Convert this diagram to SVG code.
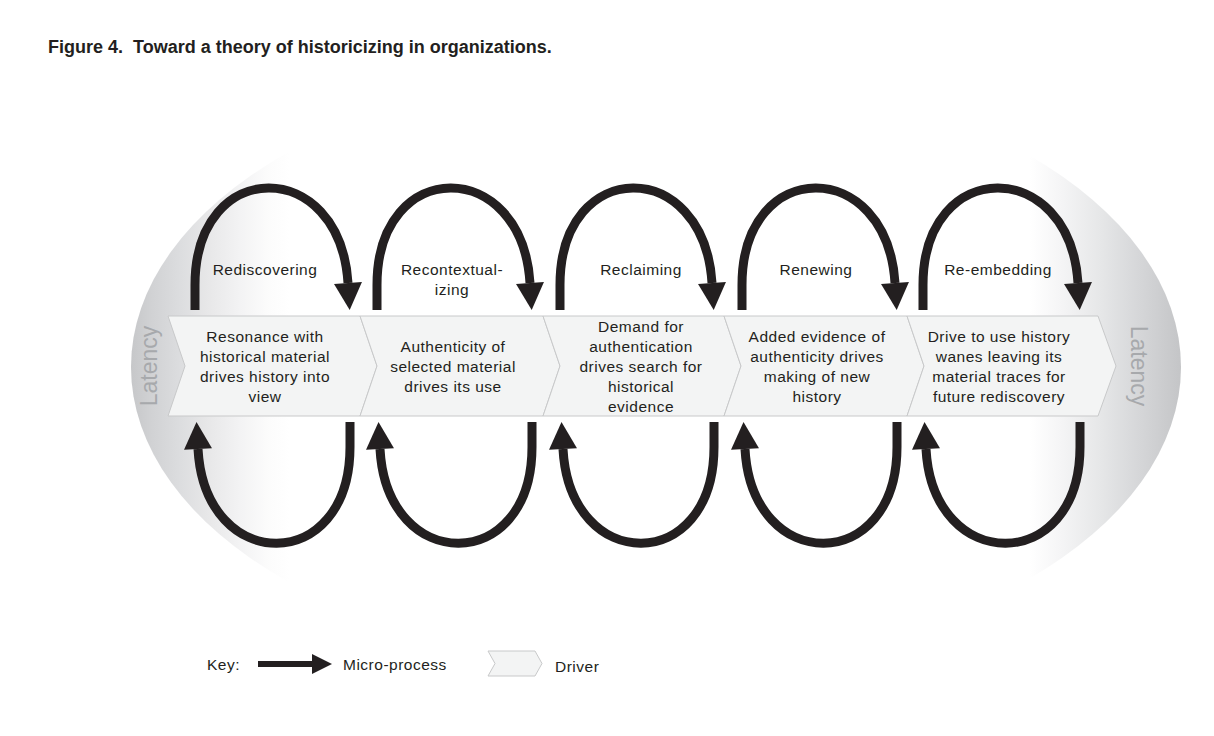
<svg xmlns="http://www.w3.org/2000/svg" width="1214" height="736" viewBox="0 0 1214 736">
<defs>
<linearGradient id="bg" gradientUnits="userSpaceOnUse" x1="131" y1="0" x2="1181" y2="0">
<stop offset="0" stop-color="#c6c7c9"/>
<stop offset="0.018" stop-color="#d0d1d3"/>
<stop offset="0.047" stop-color="#dcdddf"/>
<stop offset="0.075" stop-color="#e8e8e9"/>
<stop offset="0.104" stop-color="#f3f3f4"/>
<stop offset="0.132" stop-color="#fcfcfc"/>
<stop offset="0.151" stop-color="#ffffff"/>
<stop offset="0.856" stop-color="#ffffff"/>
<stop offset="0.885" stop-color="#f5f5f6"/>
<stop offset="0.923" stop-color="#e6e7e8"/>
<stop offset="0.961" stop-color="#d5d6d8"/>
<stop offset="1" stop-color="#c4c5c7"/>
</linearGradient>
<marker id="ah" markerUnits="userSpaceOnUse" markerWidth="30" markerHeight="30" refX="0" refY="14" orient="auto" overflow="visible">
<path d="M0,0 L27,14 L0,28 Z" fill="#231f20"/>
</marker>
<marker id="ahk" markerUnits="userSpaceOnUse" markerWidth="22" markerHeight="22" refX="0" refY="10" orient="auto" overflow="visible">
<path d="M0,0 L20,10 L0,20 Z" fill="#231f20"/>
</marker>
</defs>
<style>
text{font-family:"Liberation Sans",Arial,sans-serif;fill:#231f20}
.t{font-size:15.5px;letter-spacing:0.5px;text-anchor:middle}
.lat{font-size:23px;fill:#a7a9ac;text-anchor:middle}
.chev{fill:#f3f4f4;stroke:#c8c9ca;stroke-width:1}
.arc{fill:none;stroke:#231f20;stroke-width:9;marker-end:url(#ah)}
.title{font-size:18px;font-weight:bold;white-space:pre}
</style>
<rect width="1214" height="736" fill="#ffffff"/>
<text class="title" x="48" y="53">Figure 4.  Toward a theory of historicizing in organizations.</text>

<g id="latency-background">
<ellipse cx="656" cy="367" rx="525" ry="301" fill="url(#bg)"/>
<text class="lat" transform="translate(157,366) rotate(-90)">Latency</text>
<text class="lat" transform="translate(1131,366) rotate(90)">Latency</text>
</g>

<g id="driver-1">
<polygon class="chev" points="168,316 360,316 377,366 360,416 168,416 185,366"/>
<text class="t" x="265" y="342">Resonance with</text>
<text class="t" x="265" y="362">historical material</text>
<text class="t" x="265" y="382">drives history into</text>
<text class="t" x="265" y="402">view</text>
</g>
<g id="driver-2">
<polygon class="chev" points="360,316 543,316 560,366 543,416 360,416 377,366"/>
<text class="t" x="453" y="352">Authenticity of</text>
<text class="t" x="453" y="372">selected material</text>
<text class="t" x="453" y="392">drives its use</text>
</g>
<g id="driver-3">
<polygon class="chev" points="543,316 724,316 741,366 724,416 543,416 560,366"/>
<text class="t" x="641" y="332">Demand for</text>
<text class="t" x="641" y="352">authentication</text>
<text class="t" x="641" y="372">drives search for</text>
<text class="t" x="641" y="392">historical</text>
<text class="t" x="641" y="412">evidence</text>
</g>
<g id="driver-4">
<polygon class="chev" points="724,316 907,316 924,366 907,416 724,416 741,366"/>
<text class="t" x="817" y="342">Added evidence of</text>
<text class="t" x="817" y="362">authenticity drives</text>
<text class="t" x="817" y="382">making of new</text>
<text class="t" x="817" y="402">history</text>
</g>
<g id="driver-5">
<polygon class="chev" points="907,316 1098,316 1116,366 1098,416 907,416 924,366"/>
<text class="t" x="999" y="342">Drive to use history</text>
<text class="t" x="999" y="362">wanes leaving its</text>
<text class="t" x="999" y="382">material traces for</text>
<text class="t" x="999" y="402">future rediscovery</text>
</g>

<g id="connectors">
<path class="arc" d="M195,310 L195,285 C195,156 340,156 348,283"/>
<path class="arc" d="M377,310 L377,285 C377,156 522,156 530,283"/>
<path class="arc" d="M560,310 L560,285 C560,156 704,156 712,283"/>
<path class="arc" d="M742,310 L742,285 C742,156 887,156 895,283"/>
<path class="arc" d="M923,310 L923,285 C923,156 1070,156 1078,283"/>
<path class="arc" d="M350,422 L350,447 C350,575 205,575 198,449"/>
<path class="arc" d="M532,422 L532,447 C532,575 387,575 380,449"/>
<path class="arc" d="M714,422 L714,447 C714,575 570,575 563,449"/>
<path class="arc" d="M897,422 L897,447 C897,575 752,575 745,449"/>
<path class="arc" d="M1080,422 L1080,447 C1080,575 933,575 926,449"/>
<text class="t" x="265" y="275">Rediscovering</text>
<text class="t" x="452" y="275">Recontextual-</text>
<text class="t" x="452" y="295">izing</text>
<text class="t" x="641" y="275">Reclaiming</text>
<text class="t" x="816" y="275">Renewing</text>
<text class="t" x="998" y="275">Re-embedding</text>
</g>

<g id="key">
<text class="t" x="207" y="670" style="text-anchor:start">Key:</text>
<path d="M258,664 L312,664" stroke="#231f20" stroke-width="6" fill="none" marker-end="url(#ahk)"/>
<text class="t" x="343" y="670" style="text-anchor:start">Micro-process</text>
<polygon class="chev" points="488,651 535,651 542,663.5 535,676 488,676 495,663.5"/>
<text class="t" x="555" y="672" style="text-anchor:start">Driver</text>
</g>
</svg>
